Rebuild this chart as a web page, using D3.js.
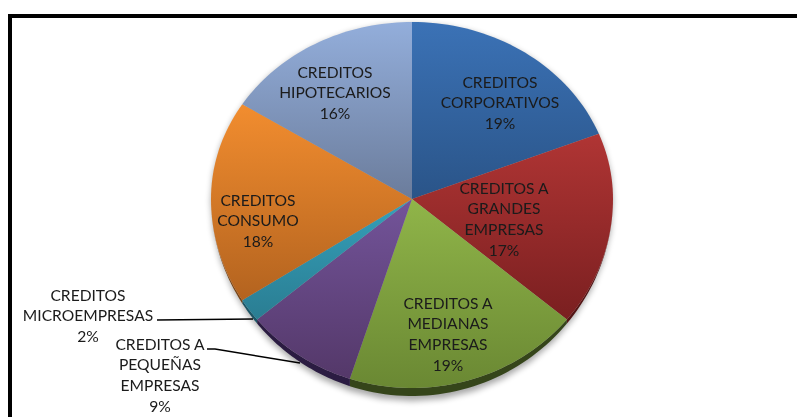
<!DOCTYPE html>
<html><head><meta charset="utf-8">
<script src="https://cdn.jsdelivr.net/npm/d3@7/dist/d3.min.js"></script>
<style>html,body{margin:0;padding:0;background:#fff}svg{display:block}</style></head>
<body><svg id="c" width="797" height="417"></svg>
<script>
const categories=["CREDITOS CORPORATIVOS","CREDITOS A GRANDES EMPRESAS","CREDITOS A MEDIANAS EMPRESAS","CREDITOS A PEQUEÑAS EMPRESAS","CREDITOS MICROEMPRESAS","CREDITOS CONSUMO","CREDITOS HIPOTECARIOS"];
const values=[19,17,19,9,2,18,16];
const labelLines=[["CREDITOS","CORPORATIVOS","19%"],["CREDITOS A","GRANDES","EMPRESAS","17%"],["CREDITOS A","MEDIANAS","EMPRESAS","19%"],["CREDITOS A","PEQUEÑAS","EMPRESAS","9%"],["CREDITOS","MICROEMPRESAS","2%"],["CREDITOS","CONSUMO","18%"],["CREDITOS","HIPOTECARIOS","16%"]];
const topColors=["#3b72b6","#b03534","#90b549","#73549a","#35a0ba","#f28d2f","#93aedb"];
const bottomColors=["#2a5488","#7a1f20","#6a8833","#543869","#2a7d92","#b3631f","#6b7c9b"];
const rimColors=["#1e3a5e","#541414","#35451a","#2b1c42","#1c5566","#7a4515","#4a5a78"];
const labelX=[500,504,448,160,88,258,335];
const labelY=[82,188,303,344,295,200,72];
const leaderLines=[null,null,null,[[207,349],[215,349],[300,363]],[[157,320],[253,319]],null,null];

const svg=d3.select("#c"),defs=svg.append("defs");
const cx=412,cy=199,rx=201,ryTop=177,ryBottom=189,rimDepth=8;
const project=(a,extra=0)=>{const c=Math.cos(a),s=Math.sin(a);
  const y=c>=0?-c*ryTop:-c*ryBottom+extra*Math.pow(-c,1.5);
  return [cx+s*rx,cy+y];};
const slices=d3.pie().sort(null)(values);
const arcPts=(a0,a1,extra=0)=>d3.range(0,41).map(i=>project(a0+(a1-a0)*i/40,extra));
const line=d3.line();
const blur=defs.append("filter").attr("id","sh").attr("x","-10%").attr("y","-10%").attr("width","120%").attr("height","120%");
blur.append("feGaussianBlur").attr("stdDeviation",3);
const soft=defs.append("filter").attr("id","soft");
soft.append("feGaussianBlur").attr("stdDeviation",0.35);

slices.forEach((d,i)=>{const g=defs.append("linearGradient").attr("id","g"+i).attr("x1",0).attr("y1",0).attr("x2",0).attr("y2",1);
  g.append("stop").attr("offset",0).attr("stop-color",topColors[i]);
  g.append("stop").attr("offset",1).attr("stop-color",bottomColors[i]);});

const all=arcPts(0,2*Math.PI,rimDepth+3);
svg.append("path").attr("d",line(all)+"Z").attr("transform","translate(0,2)").attr("fill","#000").attr("opacity",.35).attr("filter","url(#sh)");
svg.append("g").selectAll("path").data(slices).join("path")
  .attr("d",(d,i)=>line(arcPts(d.startAngle,d.endAngle,rimDepth).concat(arcPts(d.startAngle,d.endAngle).reverse()))+"Z")
  .attr("fill",(d,i)=>rimColors[i]);
svg.append("g").selectAll("path").data(slices).join("path")
  .attr("d",d=>line([[cx,cy]].concat(arcPts(d.startAngle,d.endAngle)))+"Z")
  .attr("fill",(d,i)=>`url(#g${i})`);

svg.append("g").selectAll("path").data(leaderLines.filter(Boolean)).join("path")
  .attr("d",line).attr("fill","none").attr("stroke","#000").attr("stroke-width",1.5);

const tg=svg.append("g").attr("font-family","Lato, 'Open Sans', sans-serif").attr("font-size",15.6).attr("fill","#1a1a1a").attr("text-anchor","middle").attr("filter","url(#soft)");
labelLines.forEach((ls,i)=>ls.forEach((t,j)=>tg.append("text").attr("x",labelX[i]).attr("y",labelY[i]+j*20.8).attr("dy","0.36em").text(t)));

svg.append("path").attr("d",line([[10,417],[10,16],[797,16]])).attr("fill","none").attr("stroke","#000").attr("stroke-width",4);
</script></body></html>
